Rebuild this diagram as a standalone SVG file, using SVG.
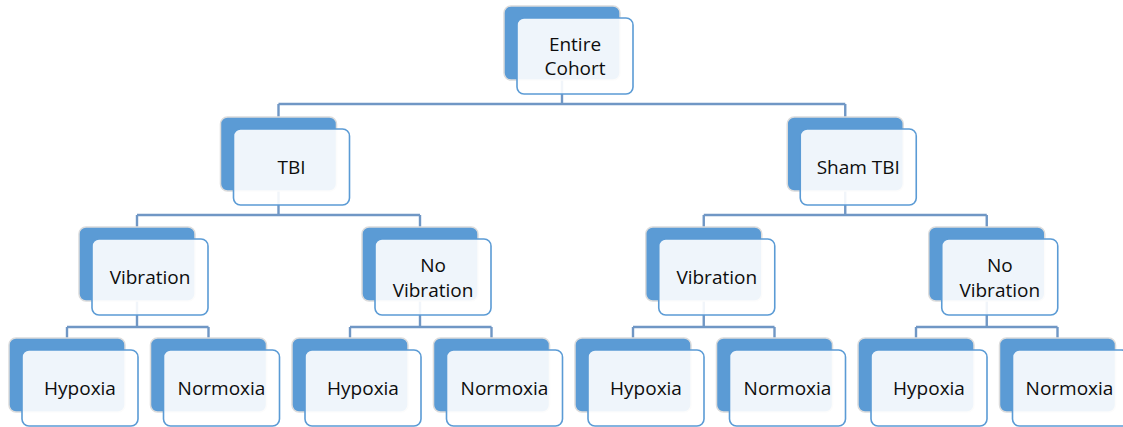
<svg xmlns="http://www.w3.org/2000/svg" width="1123" height="427" viewBox="0 0 1123 427">
<style>
.back{fill:#5b9bd5;stroke:#dcdcdc;stroke-width:1.5}
.front{fill:#ffffff;fill-opacity:0.9;stroke:#5b9bd5;stroke-width:1.6}
.lbl{font-family:"Open Sans","Liberation Sans",sans-serif;font-size:19px;fill:#0d0d0d;text-anchor:middle;dominant-baseline:central}
.conn{fill:none;stroke:#7097c5;stroke-width:2.4}
</style>
<rect width="1123" height="427" fill="#ffffff"/>
<g id="connectors" class="conn">
<path d="M562 80 V104 M278.5 104 H845.25 M278.5 104 V117 M845.25 104 V117"/>
<path d="M278.5 191 V215 M137 215 H420 M137 215 V227 M420 215 V227"/>
<path d="M845.25 191 V215 M703.75 215 H986.75 M703.75 215 V227 M986.75 215 V227"/>
<path d="M137 301 V327 M67 327 H208.5 M67 327 V338 M208.5 327 V338"/>
<path d="M420 301 V327 M350 327 H491.5 M350 327 V338 M491.5 327 V338"/>
<path d="M703.75 301 V327 M633 327 H774.5 M633 327 V338 M774.5 327 V338"/>
<path d="M986.75 301 V327 M916 327 H1057.5 M916 327 V338 M1057.5 327 V338"/>
</g>
<g id="entire-cohort">
<rect class="back" x="504" y="6" width="116" height="74" rx="7"/>
<rect class="front" x="517" y="18" width="116" height="76" rx="7"/>
<text class="lbl" x="575" y="44">Entire</text>
<text class="lbl" x="575" y="68">Cohort</text>
</g>
<g id="tbi">
<rect class="back" x="220.5" y="117" width="116" height="74" rx="7"/>
<rect class="front" x="233.5" y="129" width="116" height="76" rx="7"/>
<text class="lbl" x="291.5" y="167">TBI</text>
</g>
<g id="sham-tbi">
<rect class="back" x="787.25" y="117" width="116" height="74" rx="7"/>
<rect class="front" x="800.25" y="129" width="116" height="76" rx="7"/>
<text class="lbl" x="858.25" y="167">Sham TBI</text>
</g>
<g id="tbi-vibration">
<rect class="back" x="79" y="227" width="116" height="74" rx="7"/>
<rect class="front" x="92" y="239" width="116" height="76" rx="7"/>
<text class="lbl" x="150" y="277">Vibration</text>
</g>
<g id="tbi-no-vibration">
<rect class="back" x="362" y="227" width="116" height="74" rx="7"/>
<rect class="front" x="375" y="239" width="116" height="76" rx="7"/>
<text class="lbl" x="433" y="265">No</text>
<text class="lbl" x="433" y="290">Vibration</text>
</g>
<g id="sham-vibration">
<rect class="back" x="645.75" y="227" width="116" height="74" rx="7"/>
<rect class="front" x="658.75" y="239" width="116" height="76" rx="7"/>
<text class="lbl" x="716.75" y="277">Vibration</text>
</g>
<g id="sham-no-vibration">
<rect class="back" x="928.75" y="227" width="116" height="74" rx="7"/>
<rect class="front" x="941.75" y="239" width="116" height="76" rx="7"/>
<text class="lbl" x="999.75" y="265">No</text>
<text class="lbl" x="999.75" y="290">Vibration</text>
</g>
<g id="leaf-1">
<rect class="back" x="9" y="338" width="116" height="74" rx="7"/>
<rect class="front" x="22" y="350" width="116" height="76" rx="7"/>
<text class="lbl" x="80" y="388">Hypoxia</text>
</g>
<g id="leaf-2">
<rect class="back" x="150.5" y="338" width="116" height="74" rx="7"/>
<rect class="front" x="163.5" y="350" width="116" height="76" rx="7"/>
<text class="lbl" x="221.5" y="388">Normoxia</text>
</g>
<g id="leaf-3">
<rect class="back" x="292" y="338" width="116" height="74" rx="7"/>
<rect class="front" x="305" y="350" width="116" height="76" rx="7"/>
<text class="lbl" x="363" y="388">Hypoxia</text>
</g>
<g id="leaf-4">
<rect class="back" x="433.5" y="338" width="116" height="74" rx="7"/>
<rect class="front" x="446.5" y="350" width="116" height="76" rx="7"/>
<text class="lbl" x="504.5" y="388">Normoxia</text>
</g>
<g id="leaf-5">
<rect class="back" x="575" y="338" width="116" height="74" rx="7"/>
<rect class="front" x="588" y="350" width="116" height="76" rx="7"/>
<text class="lbl" x="646" y="388">Hypoxia</text>
</g>
<g id="leaf-6">
<rect class="back" x="716.5" y="338" width="116" height="74" rx="7"/>
<rect class="front" x="729.5" y="350" width="116" height="76" rx="7"/>
<text class="lbl" x="787.5" y="388">Normoxia</text>
</g>
<g id="leaf-7">
<rect class="back" x="858" y="338" width="116" height="74" rx="7"/>
<rect class="front" x="871" y="350" width="116" height="76" rx="7"/>
<text class="lbl" x="929" y="388">Hypoxia</text>
</g>
<g id="leaf-8">
<rect class="back" x="999.5" y="338" width="116" height="74" rx="7"/>
<rect class="front" x="1012.5" y="350" width="116" height="76" rx="7"/>
<text class="lbl" x="1069.5" y="388">Normoxia</text>
</g>
</svg>
